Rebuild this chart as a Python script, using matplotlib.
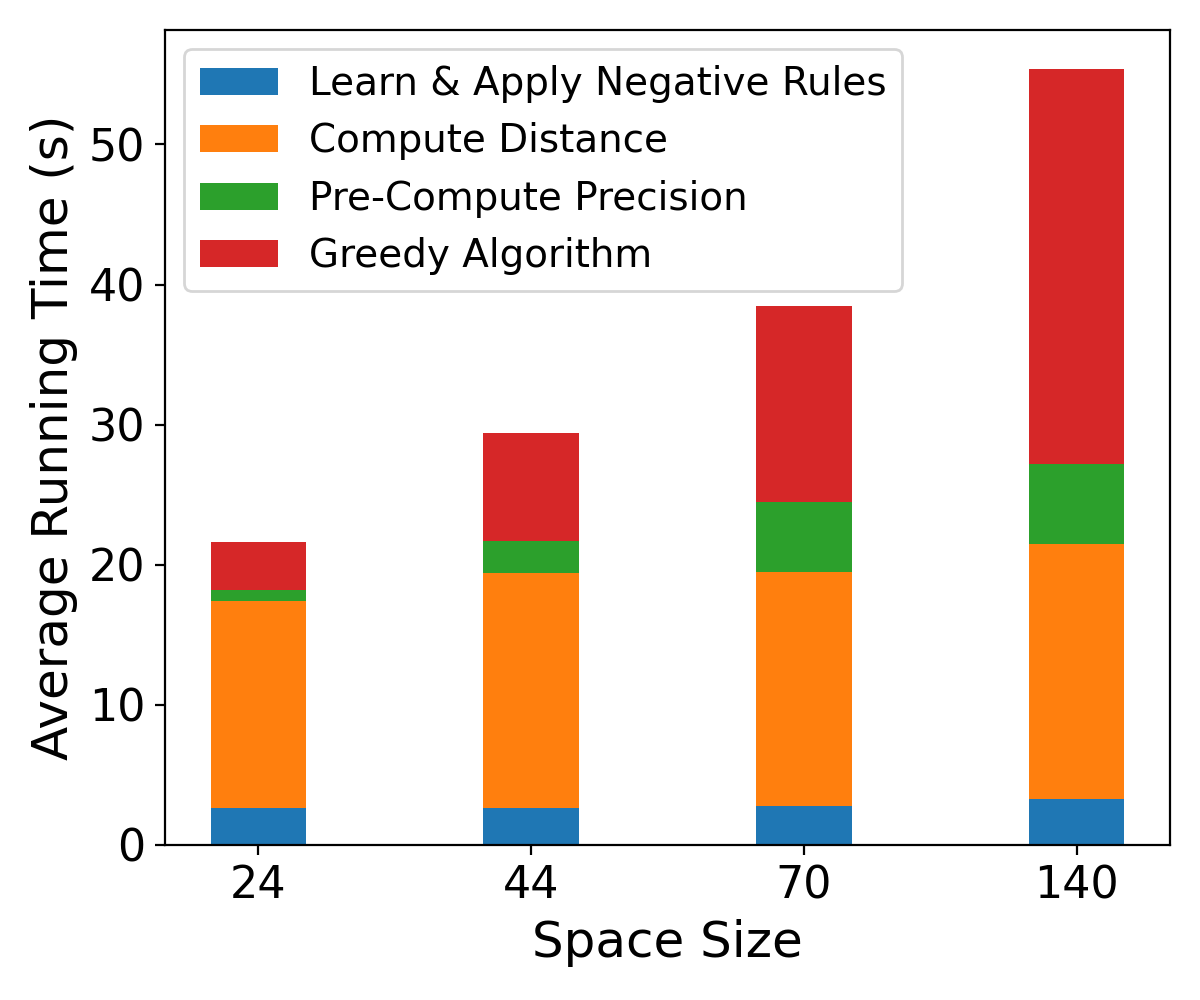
import matplotlib
matplotlib.use('Agg')
import matplotlib.pyplot as plt
import numpy as np

sizes = ['24', '44', '70', '140']
learn_rules = [2.65, 2.65, 2.8, 3.25]
compute_dist = [14.75, 16.75, 16.7, 18.2]
precompute_prec = [0.8, 2.3, 5.0, 5.75]
greedy = [3.4, 7.7, 13.95, 28.2]

fig = plt.figure(figsize=(6, 5), dpi=200)
ax = fig.add_subplot(111)

x = np.arange(len(sizes))
w = 0.35

b1 = np.array(learn_rules)
b2 = b1 + np.array(compute_dist)
b3 = b2 + np.array(precompute_prec)

ax.bar(x, learn_rules, w, color='tab:blue', label='Learn & Apply Negative Rules')
ax.bar(x, compute_dist, w, bottom=b1, color='tab:orange', label='Compute Distance')
ax.bar(x, precompute_prec, w, bottom=b2, color='tab:green', label='Pre-Compute Precision')
ax.bar(x, greedy, w, bottom=b3, color='tab:red', label='Greedy Algorithm')

ax.set_xticks(x)
ax.set_xticklabels(sizes)
ax.tick_params(labelsize=16)
ax.set_xlabel('Space Size', fontsize=18)
ax.set_ylabel('Average Running Time (s)', fontsize=18)
ax.legend(loc='upper left', fontsize=14)

fig.subplots_adjust(left=0.1375, right=0.975, top=0.97, bottom=0.155)
fig.savefig('out.png')
